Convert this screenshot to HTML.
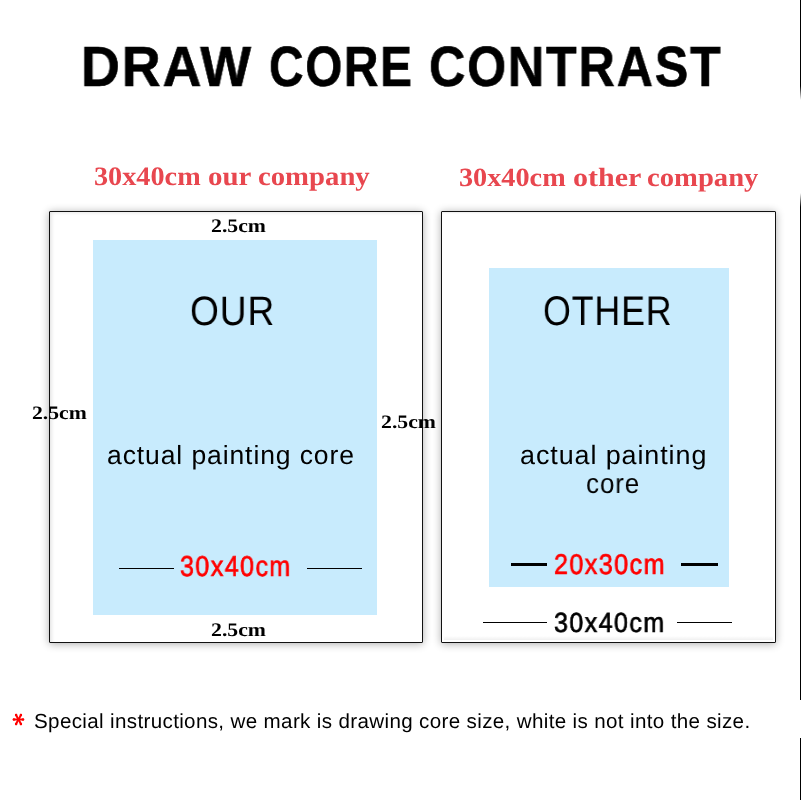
<!DOCTYPE html>
<html><head><meta charset="utf-8">
<style>
*{margin:0;padding:0;box-sizing:border-box}
html,body{width:801px;height:800px;background:#fff;overflow:hidden}
body{position:relative;font-family:"Liberation Sans",sans-serif}
.t{position:absolute;white-space:nowrap;line-height:1;transform-origin:0 0;will-change:transform;text-rendering:geometricPrecision}
.frame{position:absolute;border:1px solid #111;border-radius:1px;background:#fff;box-shadow:0 1px 8px rgba(0,0,0,.33),inset 0 0 3px rgba(0,0,0,.06)}
.blue{position:absolute;background:#c8ebfd}
.hl{position:absolute;background:#000}
.edge{position:absolute;left:800px;width:1px;background:#000}
</style></head><body>
<div class="frame" style="left:49px;top:211px;width:374px;height:432px;box-shadow:0 1px 8px rgba(0,0,0,.33),inset 3px 2px 4px -2px rgba(0,0,0,.14)"></div>
<div class="frame" style="left:441px;top:211px;width:335px;height:432px;box-shadow:0 1px 8px rgba(0,0,0,.33),inset 0 2px 2px -1px rgba(0,0,0,.07)"></div>
<div class="blue" style="left:93px;top:240px;width:284px;height:375px"></div>
<div class="blue" style="left:489px;top:268px;width:240px;height:319px"></div>

<div class="hl" style="left:119px;top:568px;width:55px;height:1px"></div>
<div class="hl" style="left:307px;top:568px;width:55px;height:1px"></div>
<div class="hl" style="left:511px;top:563px;width:36px;height:3px"></div>
<div class="hl" style="left:681px;top:563px;width:37px;height:3px"></div>
<div class="hl" style="left:483px;top:622px;width:64px;height:1px"></div>
<div class="hl" style="left:677px;top:622px;width:55px;height:1px"></div>

<div style="position:absolute;left:444px;top:636px;width:329px;height:4px;background:linear-gradient(rgba(0,0,0,0),rgba(0,0,0,.06))"></div>
<div class="t" style="left:81.26px;top:39.65px;font-family:'Liberation Sans',sans-serif;font-weight:700;font-size:56.74px;color:#000;transform:scaleX(0.9483);letter-spacing:2px;-webkit-text-stroke:0.6px currentColor">DRAW</div>
<div class="t" style="left:268.72px;top:39.65px;font-family:'Liberation Sans',sans-serif;font-weight:700;font-size:56.74px;color:#000;transform:scaleX(0.8422);letter-spacing:2px;-webkit-text-stroke:0.6px currentColor">CORE</div>
<div class="t" style="left:429.43px;top:39.65px;font-family:'Liberation Sans',sans-serif;font-weight:700;font-size:56.74px;color:#000;transform:scaleX(0.8862);letter-spacing:2px;-webkit-text-stroke:0.6px currentColor">CONTRAST</div>
<div class="t" style="left:94.19px;top:163.12px;font-family:'Liberation Serif',serif;font-weight:700;font-size:26.64px;color:#e8474f;transform:scaleX(1.0606);">30x40cm</div>
<div class="t" style="left:207.66px;top:163.12px;font-family:'Liberation Serif',serif;font-weight:700;font-size:26.64px;color:#e8474f;transform:scaleX(1.0855);">our</div>
<div class="t" style="left:257.67px;top:163.12px;font-family:'Liberation Serif',serif;font-weight:700;font-size:26.64px;color:#e8474f;transform:scaleX(1.0789);">company</div>
<div class="t" style="left:459.23px;top:164.75px;font-family:'Liberation Serif',serif;font-weight:700;font-size:26.29px;color:#e8474f;transform:scaleX(1.0745);">30x40cm</div>
<div class="t" style="left:572.61px;top:164.75px;font-family:'Liberation Serif',serif;font-weight:700;font-size:26.29px;color:#e8474f;transform:scaleX(1.1422);">other</div>
<div class="t" style="left:647.41px;top:164.75px;font-family:'Liberation Serif',serif;font-weight:700;font-size:26.29px;color:#e8474f;transform:scaleX(1.0901);">company</div>
<div class="t" style="left:211.27px;top:216.9px;font-family:'Liberation Serif',serif;font-weight:700;font-size:19.27px;color:#000;transform:scaleX(1.1298);">2.5cm</div>
<div class="t" style="left:31.66px;top:403.5px;font-family:'Liberation Serif',serif;font-weight:700;font-size:18.99px;color:#000;transform:scaleX(1.1413);">2.5cm</div>
<div class="t" style="left:381.45px;top:412.5px;font-family:'Liberation Serif',serif;font-weight:700;font-size:18.99px;color:#000;transform:scaleX(1.1457);">2.5cm</div>
<div class="t" style="left:211.27px;top:620.9px;font-family:'Liberation Serif',serif;font-weight:700;font-size:19.27px;color:#000;transform:scaleX(1.1298);">2.5cm</div>
<div class="t" style="left:189.95px;top:291.12px;font-family:'Liberation Sans',sans-serif;font-weight:400;font-size:41.21px;color:#000;transform:scaleX(0.9017);letter-spacing:1px">OUR</div>
<div class="t" style="left:542.77px;top:291.12px;font-family:'Liberation Sans',sans-serif;font-weight:400;font-size:41.41px;color:#000;transform:scaleX(0.8638);letter-spacing:1px">OTHER</div>
<div class="t" style="left:107.49px;top:442.0px;font-family:'Liberation Sans',sans-serif;font-weight:400;font-size:26.3px;color:#000;transform:scaleX(1.0074);letter-spacing:0.9px">actual painting core</div>
<div class="t" style="left:519.99px;top:442.22px;font-family:'Liberation Sans',sans-serif;font-weight:400;font-size:26.55px;color:#000;transform:scaleX(1.0138);letter-spacing:0.9px">actual painting</div>
<div class="t" style="left:586.37px;top:469.8px;font-family:'Liberation Sans',sans-serif;font-weight:400;font-size:28.1px;color:#000;transform:scaleX(0.9273);letter-spacing:0.9px">core</div>
<div class="t" style="left:180.13px;top:553.08px;font-family:'Liberation Sans',sans-serif;font-weight:400;font-size:28.77px;color:#f00;transform:scaleX(0.873);-webkit-text-stroke:0.7px currentColor;letter-spacing:1.6px">30x40cm</div>
<div class="t" style="left:554.12px;top:551.25px;font-family:'Liberation Sans',sans-serif;font-weight:400;font-size:28.65px;color:#f00;transform:scaleX(0.878);-webkit-text-stroke:0.7px currentColor;letter-spacing:1.6px">20x30cm</div>
<div class="t" style="left:553.85px;top:608.75px;font-family:'Liberation Sans',sans-serif;font-weight:400;font-size:27.72px;color:#000;transform:scaleX(0.9021);-webkit-text-stroke:0.7px currentColor;letter-spacing:1.6px">30x40cm</div>
<div class="t" style="left:33.79px;top:711.65px;font-family:'Liberation Sans',sans-serif;font-weight:400;font-size:20.43px;color:#000;transform:scaleX(1.0078);letter-spacing:0.35px">Special instructions, we mark is drawing core size, white is not into the size.</div>
<svg style="position:absolute;left:0;top:700px" width="40" height="40" viewBox="0 700 40 40"><g stroke="#f00" stroke-width="2" stroke-linecap="round"><line x1="13.8" y1="719.5" x2="23.1" y2="719.5"/><line x1="16" y1="714.9" x2="21" y2="724.1"/><line x1="21" y1="714.9" x2="16" y2="724.1"/></g><g fill="#f00"><circle cx="13.9" cy="719.5" r="1.25"/><circle cx="23" cy="719.5" r="1.25"/><circle cx="16.1" cy="715" r="1.25"/><circle cx="20.9" cy="715" r="1.25"/><circle cx="16.1" cy="724" r="1.25"/><circle cx="20.9" cy="724" r="1.25"/></g></svg>

<div class="edge" style="top:0;height:100px;background:linear-gradient(#000 0,#000 86px,rgba(0,0,0,0) 100px)"></div>
<div class="edge" style="top:193px;height:507px;background:linear-gradient(rgba(0,0,0,0) 0,#000 14px,#000 100%)"></div>
<div class="edge" style="top:738px;height:62px"></div>
</body></html>
